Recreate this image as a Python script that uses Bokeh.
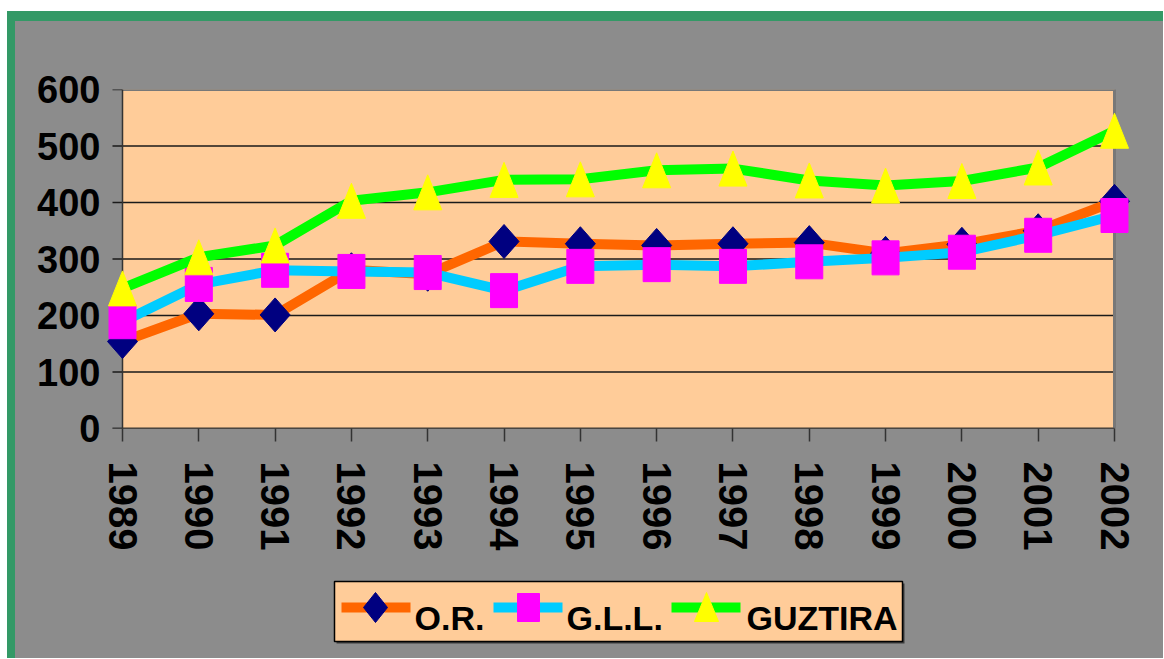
from bokeh.plotting import figure
from bokeh.models import Range1d, FixedTicker, Spacer
from bokeh.layouts import column, row
from bokeh.core.properties import value
from bokeh.embed import file_html
from bokeh.resources import INLINE

# ---------------- data ----------------
years = [1989, 1990, 1991, 1992, 1993, 1994, 1995, 1996, 1997, 1998, 1999, 2000, 2001, 2002]
or_vals = [154, 203, 201, 281, 273, 331, 327, 324, 327, 329, 310, 326, 350, 402]
gll_vals = [189, 255, 280, 278, 276, 244, 287, 290, 287, 295, 302, 312, 342, 377]
guz_vals = [248, 303, 324, 403, 418, 440, 441, 457, 460, 439, 430, 438, 462, 527]
series_names = ["O.R.", "G.L.L.", "GUZTIRA"]
y_ticks = [0, 100, 200, 300, 400, 500, 600]

# ---------------- styles ----------------
GRAY = "#8c8c8c"
PEACH = "#ffcc99"
GREEN_BORDER = "#339966"
C_OR_LINE, C_OR_MARK = "#ff6600", "#000080"
C_GLL_LINE, C_GLL_MARK = "#00ccff", "#ff00ff"
C_GUZ_LINE, C_GUZ_MARK = "#00ff00", "#ffff00"
LW = 10
FONT = "Liberation Sans"

FRAME_W, FRAME_H = 1032, 339
PAD = 20  # px of frame padding left/right so markers are not clipped
BORDER_L, BORDER_R = 87, 29
x0, x1 = years[0], years[-1]
xpp = (x1 - x0) / (FRAME_W - 2 * PAD)        # data units per pixel (x)
ypp = (y_ticks[-1] - y_ticks[0]) / FRAME_H   # data units per pixel (y)

p1 = figure(frame_width=FRAME_W, frame_height=FRAME_H,
            min_border_left=BORDER_L, min_border_right=BORDER_R,
            min_border_top=68, min_border_bottom=147,
            x_range=Range1d(x0 - PAD * xpp, x1 + PAD * xpp),
            y_range=Range1d(y_ticks[0], y_ticks[-1]),
            output_backend="svg", toolbar_location=None)
p1.background_fill_color = GRAY
p1.border_fill_color = GRAY
p1.outline_line_color = None
p1.xgrid.visible = False
p1.ygrid.visible = False

# plot area
p1.quad(left=[x0], right=[x1], bottom=[y_ticks[0]], top=[y_ticks[-1]], fill_color=PEACH, line_color=None)
# grid lines + left tick marks
gx0 = [x0 - 10 * xpp] * len(y_ticks)
gx1 = [x1 if t < y_ticks[-1] else x0 for t in y_ticks]
p1.segment(x0=gx0, y0=y_ticks, x1=gx1, y1=y_ticks, line_color="#1a1a1a", line_width=1.3)
# plot area border (top / right)
p1.line([x0, x1, x1], [y_ticks[-1], y_ticks[-1], y_ticks[0]], line_color="#787878", line_width=3)
# axis lines
p1.line([x0, x0], [y_ticks[0], y_ticks[-1]], line_color="#333333", line_width=1.5)
p1.line([x0 - 10 * xpp, x1], [y_ticks[0], y_ticks[0]], line_color="#333333", line_width=1.5)


def diamonds(fig, xs, ys, w, h, color):
    hw, hh = w / 2 * xpp, h / 2 * ypp
    fig.patches(xs=[[x - hw, x, x + hw, x] for x in xs],
                ys=[[y, y + hh, y, y - hh] for y in ys],
                fill_color=color, line_color=color, line_width=1)


def triangles(fig, xs, ys, w, h, color):
    hw, hh = w / 2 * xpp, h / 2 * ypp
    fig.patches(xs=[[x - hw, x, x + hw] for x in xs],
                ys=[[y - hh, y + hh, y - hh] for y in ys],
                fill_color=color, line_color=color, line_width=1)


# O.R.
p1.line(years, or_vals, line_color=C_OR_LINE, line_width=LW, line_join="round")
diamonds(p1, years, or_vals, 30, 34, C_OR_MARK)
# G.L.L.
p1.line(years, gll_vals, line_color=C_GLL_LINE, line_width=LW, line_join="round")
p1.rect(x=years, y=gll_vals, width=27, height=34, width_units="screen", height_units="screen",
        fill_color=C_GLL_MARK, line_color=C_GLL_MARK)
# GUZTIRA
p1.line(years, guz_vals, line_color=C_GUZ_LINE, line_width=LW, line_join="round")
triangles(p1, years, guz_vals, 28, 35, C_GUZ_MARK)

# axes
p1.xaxis.ticker = FixedTicker(ticks=years)
p1.xaxis.axis_line_color = None
p1.xaxis.major_tick_out = 13
p1.xaxis.major_tick_in = 0
p1.xaxis.major_tick_line_color = "#333333"
p1.xaxis.major_tick_line_width = 1.5
p1.xaxis.minor_tick_line_color = None
p1.xaxis.major_label_orientation = "vertical"
p1.xaxis.major_label_standoff = 20
p1.xaxis.major_label_text_font = FONT
p1.xaxis.major_label_text_font_style = "bold"
p1.xaxis.major_label_text_font_size = "40px"
p1.xaxis.major_label_text_color = "black"

p1.yaxis.ticker = FixedTicker(ticks=y_ticks)
p1.yaxis.axis_line_color = None
p1.yaxis.major_tick_line_color = None
p1.yaxis.major_tick_out = 0
p1.yaxis.major_tick_in = 0
p1.yaxis.minor_tick_line_color = None
p1.yaxis.major_label_standoff = 2
p1.yaxis.major_label_text_font = FONT
p1.yaxis.major_label_text_font_style = "bold"
p1.yaxis.major_label_text_font_size = "38px"
p1.yaxis.major_label_text_color = "black"

# ---------------- legend panel (page pixel coordinates) ----------------
P2_LEFT, P2_RIGHT = 15, 1163
P2_TOP, P2_BOT = 575, 658
p2 = figure(frame_width=P2_RIGHT - P2_LEFT, frame_height=P2_BOT - P2_TOP, min_border=0,
            x_range=Range1d(P2_LEFT, P2_RIGHT), y_range=Range1d(P2_BOT, P2_TOP),
            output_backend="svg", toolbar_location=None)
p2.title.visible = False
p2.xaxis.visible = False
p2.yaxis.visible = False
p2.grid.visible = False
p2.background_fill_color = GRAY
p2.border_fill_color = GRAY
p2.outline_line_color = None

# legend box (drawn as closed polygons) with a dark drop edge
bl, br, bt, bb = 334, 902, 581, 641
p2.patch([bl + 2, br + 2, br + 2, bl + 2], [bt + 2, bt + 2, bb + 2, bb + 2], fill_color="#3c3c3c", line_color=None)
p2.patch([bl, br, br, bl], [bt, bt, bb, bb], fill_color=PEACH, line_color="black", line_width=1.5)
leg_line_x0 = [341, 493, 671]
leg_line_x1 = [410, 562, 740]
leg_y = 607
p2.segment(x0=leg_line_x0, x1=leg_line_x1, y0=[leg_y] * 3, y1=[leg_y] * 3,
           line_color=[C_OR_LINE, C_GLL_LINE, C_GUZ_LINE], line_width=LW)
# diamond
p2.patch([363, 375, 387, 375], [leg_y, leg_y - 15, leg_y, leg_y + 15], fill_color=C_OR_MARK, line_color=C_OR_MARK)
# square
p2.patch([517, 539, 539, 517], [leg_y - 14, leg_y - 14, leg_y + 14, leg_y + 14],
         fill_color=C_GLL_MARK, line_color=C_GLL_MARK)
# triangle
p2.patch([694, 706, 718], [leg_y + 14, leg_y - 15, leg_y + 14], fill_color=C_GUZ_MARK, line_color=C_GUZ_MARK)
p2.text(x=[414, 566, 746], y=[617, 617, 617], text=series_names,
        text_font=value(FONT), text_font_style="bold",
        text_font_size="34px", text_color="black", text_baseline="middle", text_align="left")

# ---------------- page frame ----------------
left_white = Spacer(width=7, height=658, styles={"background-color": "white"})
top_white = Spacer(width=1156, height=11, styles={"background-color": "white"})
top_green = Spacer(width=1156, height=10, styles={"background-color": GREEN_BORDER})
left_green = Spacer(width=8, height=637, styles={"background-color": GREEN_BORDER})
layout = row(left_white,
             column(top_white, top_green,
                    row(left_green, column(p1, row(p2)), styles={"background-color": GRAY})))

open("out.html", "w").write(file_html(layout, INLINE))
